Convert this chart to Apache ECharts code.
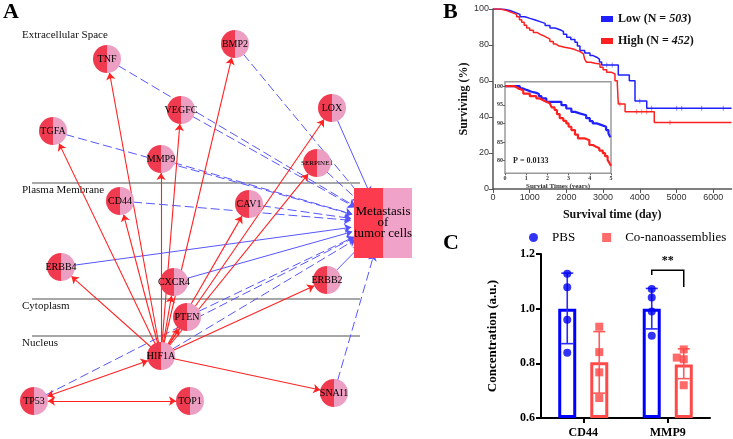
<!DOCTYPE html>
<html><head><meta charset="utf-8">
<script src="https://cdn.jsdelivr.net/npm/echarts@6/dist/echarts.min.js"></script>
<style>html,body{margin:0;padding:0;background:#fff}#c{width:733px;height:439px}</style>
</head><body><div id="c"></div>
<script>
// ---------- Panel A: network ----------
const nodeNames = ['TNF','BMP2','VEGFC','LOX','TGFA','MMP9','SERPINE1','CD44','CAV1','ERBB4','CXCR4','ERBB2','PTEN','HIF1A','TP53','TOP1','SNAI1'];
const nodeX =     [107,   235,   181,    332,  53,    161,   317,       120,   249,   61,     174,    327,    187,   161,    34,    190,   334];
const nodeY =     [59,    44,    110,    108,  131,   159,   163,       201,   204,   267,    282,    280,    317,   356,    401,   401,   393];
const outcomeName = 'Metastasis';
const outcomeLabel = 'Metastasis\nof\ntumor cells';
const outcomePos = [383, 223];
const redFrom = 'HIF1A';
const redTo = ['TNF','BMP2','VEGFC','LOX','TGFA','MMP9','SERPINE1','CD44','CAV1','ERBB4','CXCR4','ERBB2','PTEN','SNAI1'];
const bothWays = [['HIF1A','TP53'],['TP53','TOP1']];
const blueFrom = ['TNF','BMP2','VEGFC','LOX','TGFA','MMP9','SERPINE1','CD44','CAV1','ERBB4','CXCR4','ERBB2','PTEN','HIF1A','TP53','SNAI1'];
const blueSolid = ['LOX','ERBB4','CXCR4','ERBB2'];
const layers = ['Extracellular Space','Plasma Membrane','Cytoplasm','Nucleus'];

// ---------- Panel B: Kaplan-Meier ----------
const lowDays = [0,150,300,463,600,736,870,1008,1150,1281,1420,1553,1690,1826,1920,2008,2120,2234,2300,2370,2500,2643,2730,2825,2900,2961,3415,3715,3870,4190,6500];
const lowSurv = [100,99.8,99.2,98.1,97,95.7,94.8,93.9,93,92,90.8,89.4,88.5,87.6,86,84.3,83,81.5,79.5,76.9,75.5,74.1,73.2,72.2,70.5,68.9,63.3,60.2,48.9,44.8,44.8];
const highDays = [0,200,372,500,645,720,781,850,917,1000,1099,1190,1281,1370,1463,1550,1644,1710,1780,1950,2098,2190,2280,2370,2461,2500,2552,2660,2780,2916,3000,3098,3234,3324,3388,3415,3600,4395,6500];
const highSurv = [100,99.2,98.1,97,95.7,94,92.6,91,89.4,88.2,87,86,85.2,84.2,83.3,82,80.6,79.6,78.7,78.2,77.8,77,76.3,75.2,74.1,72,70.4,69.9,69.4,67.6,66.2,64.8,63.9,60.2,58.3,47.2,42.9,37,37];
const lowCensorDays = [3100,3250,4000,4324,5005,5142,5687,6276];
const lowCensorSurv = [68.9,68.9,48.9,44.8,44.8,44.8,44.8,44.8];
const highCensorDays = [3460,3915,4052,4188,4823];
const highCensorSurv = [47.2,42.9,42.9,42.9,37];
const kmTicksX = [0,1000,2000,3000,4000,5000,6000];
const kmTicksY = [0,20,40,60,80,100];
// inset (years)
const lowYears = [0,0.47,0.7,0.85,1.02,1.25,1.48,1.6,1.72,1.95,2.42,2.66,2.89,3.13,3.3,3.52,3.83,4.0,4.14,4.33,4.53,4.77,4.88,4.97,5];
const lowInset = [100,100,99.4,99,98.5,98.2,97.9,97.3,96.7,95.8,95.8,94.9,94.0,93.1,92.7,92.2,91.4,90.6,90.0,89.6,89.1,88.2,87.3,86.3,86.3];
const highYears = [0,0.39,0.5,0.62,0.86,1.17,1.48,1.65,1.8,1.95,2.11,2.2,2.34,2.45,2.58,2.75,2.89,3.0,3.13,3.3,3.44,3.75,3.98,4.15,4.3,4.45,4.61,4.72,4.84,4.93,5];
const highInset = [100,99.9,99.4,98.9,98,97.3,96.7,96.2,95.8,95.4,94.9,94.3,93.6,92.5,91.4,90.7,90,89.1,88.2,87,86,85.5,84.2,83.7,83.3,82.7,82,81.2,80.2,79.3,78.6];
const insetTicksY = [80,85,90,95,100];
const pValue = 'P = 0.0133';

// ---------- Panel C: bars ----------
const markers = ['CD44','MMP9'];
const pbsMean = [1.0, 1.0];
const pbsLow = [0.872, 0.926];
const pbsHigh = [1.13, 1.074];
const coMean = [0.804, 0.796];
const coLow = [0.691, 0.744];
const coHigh = [0.916, 0.853];
const pbsPoints = [[1.128,1.078,0.959,0.839],[1.072,1.041,0.99,0.901]];
const coPoints = [[0.934,0.841,0.767,0.673],[0.851,0.821,0.815,0.72]];
const sigLevels = [1.141, 1.123, 1.079];

const serif = "'Liberation Serif','Times New Roman',serif";
const sans = "'Liberation Sans',Arial,sans-serif";
const RED = '#f03a50', PINK = '#ec9fc2';
const half = (a, b) => ({type:'linear', x:0, y:0, x2:1, y2:0, colorStops:[
  {offset:0,color:a},{offset:0.5,color:a},{offset:0.5,color:b},{offset:1,color:b}]});

const chart = echarts.init(document.getElementById('c'), null, {renderer:'canvas'});

// network nodes/links
const gNodes = nodeNames.map((n,i)=>({
  name:n, value:[nodeX[i], nodeY[i]],
  label: n==='SERPINE1' ? {fontSize:7} : undefined
}));
gNodes.push({name:outcomeName, value:outcomePos, symbol:'rect', symbolSize:[58,70],
  itemStyle:{color:half('#fc3c4e','#f0a2c8')},
  label:{formatter:outcomeLabel, fontSize:13, lineHeight:11}});
const gLinks = [];
blueFrom.forEach(s=>gLinks.push({source:s, target:outcomeName,
  lineStyle:{color:'#5656ff', width:1, type: blueSolid.includes(s)?'solid':[9,4]}}));
redTo.forEach(t=>gLinks.push({source:redFrom, target:t, lineStyle:{color:'#ff2222', width:1.1, type:'solid'}}));
bothWays.forEach(p=>gLinks.push({source:p[0], target:p[1], symbol:['arrow','arrow'], lineStyle:{color:'#ff2222', width:1.1, type:'solid'}}));

const km = (d, s) => d.map((v,i)=>[v, s[i]]);
const BLUE = '#1f1fff', KRED = '#ff2020';

function errBar(color, off){
  return function(params, api){
    const lo = api.coord([api.value(0), api.value(2)]);
    const hi = api.coord([api.value(0), api.value(3)]);
    const x = lo[0] + off, w = 6;
    const st = {stroke:color, lineWidth:1.6};
    return {type:'group', children:[
      {type:'line', shape:{x1:x,y1:lo[1],x2:x,y2:hi[1]}, style:st},
      {type:'line', shape:{x1:x-w,y1:lo[1],x2:x+w,y2:lo[1]}, style:st},
      {type:'line', shape:{x1:x-w,y1:hi[1],x2:x+w,y2:hi[1]}, style:st}
    ]};
  };
}

const pbsScatter = [], coScatter = [];
pbsPoints.forEach((arr,c)=>arr.forEach(v=>pbsScatter.push([c,v])));
coPoints.forEach((arr,c)=>arr.forEach((v,k)=>coScatter.push(
  c===1 && k===1 ? {value:[c,v], symbolOffset:[9,0]} : [c,v])));

const option = {
  animation:false,
  textStyle:{fontFamily:serif},
  grid:[
    {left:0, top:0, width:370, height:439},
    {left:493, top:9, width:238.5, height:180},
    {left:505, top:81.7, width:106, height:91.6, show:true, borderColor:'#9a9a9a', borderWidth:1.5, backgroundColor:'#fff', z:3},
    {left:541, top:254, width:169, height:164}
  ],
  xAxis:[
    {gridIndex:0, type:'value', min:0, max:370, show:false},
    {gridIndex:1, type:'value', min:0, max:6500,
      axisLine:{show:true, lineStyle:{color:'#555', width:1.5}}, splitLine:{show:false},
      axisTick:{show:true, length:4, customValues:kmTicksX, lineStyle:{color:'#555'}},
      axisLabel:{customValues:kmTicksX, formatter:v=>String(v), fontFamily:sans, fontSize:9, color:'#333', margin:4},
      name:'Survival time (day)', nameLocation:'middle', nameGap:20,
      nameTextStyle:{fontFamily:serif, fontWeight:'bold', fontSize:12, color:'#111'}},
    {gridIndex:2, type:'value', min:0, max:5, interval:1, z:4,
      axisLine:{show:false}, splitLine:{show:false},
      axisTick:{show:true, length:2, lineStyle:{color:'#666'}},
      axisLabel:{fontFamily:serif, fontWeight:'bold', fontSize:6, color:'#333', margin:2},
      name:'Survial Times (years)', nameLocation:'middle', nameGap:9,
      nameTextStyle:{fontFamily:serif, fontWeight:'bold', fontSize:7, color:'#333'}},
    {gridIndex:3, type:'category', data:markers,
      axisLine:{show:true, lineStyle:{color:'#000', width:2}},
      axisTick:{show:true, alignWithLabel:true, length:5, lineStyle:{color:'#000', width:2}},
      axisLabel:{fontFamily:serif, fontWeight:'bold', fontSize:12, color:'#000', margin:9}}
  ],
  yAxis:[
    {gridIndex:0, type:'value', min:0, max:439, inverse:true, show:false},
    {gridIndex:1, type:'value', min:0, max:100,
      axisLine:{show:true, lineStyle:{color:'#555', width:1.5}}, splitLine:{show:false},
      axisTick:{show:true, length:4, customValues:kmTicksY, lineStyle:{color:'#555'}},
      axisLabel:{customValues:kmTicksY, fontFamily:sans, fontSize:9, color:'#333', margin:4},
      name:'Surviving (%)', nameLocation:'middle', nameGap:23,
      nameTextStyle:{fontFamily:serif, fontWeight:'bold', fontSize:12, color:'#111'}},
    {gridIndex:2, type:'value', min:76.6, max:101.2, z:4,
      axisLine:{show:false}, splitLine:{show:false},
      axisTick:{show:true, length:2, customValues:insetTicksY, lineStyle:{color:'#666'}},
      axisLabel:{customValues:insetTicksY, fontFamily:serif, fontWeight:'bold', fontSize:6, color:'#333', margin:2}},
    {gridIndex:3, type:'value', min:0.6, max:1.2, interval:0.2, startValue:0.6,
      axisLine:{show:true, lineStyle:{color:'#000', width:2}}, splitLine:{show:false},
      axisTick:{show:true, length:5, lineStyle:{color:'#000', width:2}},
      axisLabel:{formatter:v=>v.toFixed(1), fontFamily:serif, fontWeight:'bold', fontSize:12, color:'#000', margin:6},
      name:'Concentration (a.u.)', nameLocation:'middle', nameGap:42,
      nameTextStyle:{fontFamily:serif, fontWeight:'bold', fontSize:13, color:'#000'}}
  ],
  legend:[
    {data:['Low','High'], orient:'vertical', left:596, top:8, itemWidth:12, itemHeight:6, itemGap:10, icon:'rect',
      formatter:n=> n==='Low' ? '{b|Low (N = }{i|503}{b|)}' : '{b|High (N = }{i|452}{b|)}',
      textStyle:{rich:{b:{fontFamily:serif, fontWeight:'bold', fontSize:12, color:'#111'},
                       i:{fontFamily:serif, fontWeight:'bold', fontStyle:'italic', fontSize:12, color:'#111'}}}},
    {data:[{name:'PBS', icon:'circle'},{name:'Co-nanoassemblies', icon:'rect'}], orient:'horizontal',
      left:529, top:231, width:204, padding:0, itemWidth:9, itemHeight:9, itemGap:27,
      formatter:n=>'{a|'+n+'}',
      textStyle:{rich:{a:{fontFamily:serif, fontSize:13, color:'#000', padding:[0,0,0,9]}}}}
  ],
  graphic:[
    {type:'text', left:3, top:1, style:{text:'A', font:'bold 22px '+serif, fill:'#000'}},
    {type:'text', left:443, top:1, style:{text:'B', font:'bold 22px '+serif, fill:'#000'}},
    {type:'text', left:443, top:232, style:{text:'C', font:'bold 22px '+serif, fill:'#000'}},
    {type:'line', shape:{x1:32,y1:183,x2:360,y2:183}, style:{stroke:'#8a8a8a', lineWidth:1.3}},
    {type:'line', shape:{x1:32,y1:299,x2:360,y2:299}, style:{stroke:'#8a8a8a', lineWidth:1.3}},
    {type:'line', shape:{x1:32,y1:336,x2:360,y2:336}, style:{stroke:'#8a8a8a', lineWidth:1.3}},
    {type:'text', left:22, top:30, style:{text:layers[0], font:'11px '+serif, fill:'#111'}},
    {type:'text', left:22, top:185, style:{text:layers[1], font:'11px '+serif, fill:'#111'}},
    {type:'text', left:22, top:301, style:{text:layers[2], font:'11px '+serif, fill:'#111'}},
    {type:'text', left:22, top:338, style:{text:layers[3], font:'11px '+serif, fill:'#111'}},
    {type:'text', left:513, top:157, z:10, style:{text:pValue, font:'bold 8px '+serif, fill:'#222'}}
  ],
  series:[
    {type:'graph', coordinateSystem:'cartesian2d', xAxisIndex:0, yAxisIndex:0, silent:true,
      symbol:'circle', symbolSize:28, edgeSymbol:['none','arrow'], edgeSymbolSize:7,
      itemStyle:{color:half(RED, PINK)},
      label:{show:true, position:'inside', color:'#000', fontFamily:serif, fontSize:10},
      lineStyle:{opacity:1, curveness:0},
      emphasis:{disabled:true},
      data:gNodes, links:gLinks},
    {type:'line', name:'Low', xAxisIndex:1, yAxisIndex:1, step:'end', showSymbol:false, data:km(lowDays, lowSurv),
      lineStyle:{color:BLUE, width:1.5}, itemStyle:{color:BLUE}},
    {type:'line', name:'High', xAxisIndex:1, yAxisIndex:1, step:'end', showSymbol:false, data:km(highDays, highSurv),
      lineStyle:{color:KRED, width:1.5}, itemStyle:{color:KRED}},
    {type:'scatter', name:'Low censor', xAxisIndex:1, yAxisIndex:1, symbol:'rect', symbolSize:[1,5],
      data:km(lowCensorDays, lowCensorSurv), itemStyle:{color:'#6a6aff'}},
    {type:'scatter', name:'High censor', xAxisIndex:1, yAxisIndex:1, symbol:'rect', symbolSize:[1,5],
      data:km(highCensorDays, highCensorSurv), itemStyle:{color:'#ff6a6a'}},
    {type:'line', name:'Low inset', xAxisIndex:2, yAxisIndex:2, step:'end', showSymbol:false, z:5, data:km(lowYears, lowInset),
      lineStyle:{color:BLUE, width:2.2}},
    {type:'line', name:'High inset', xAxisIndex:2, yAxisIndex:2, step:'end', showSymbol:false, z:5, data:km(highYears, highInset),
      lineStyle:{color:KRED, width:2.2}},
    {type:'bar', name:'PBS bar', xAxisIndex:3, yAxisIndex:3, data:pbsMean, barWidth:18, barGap:'78%',
      itemStyle:{color:'rgba(0,0,0,0)', borderColor:'#0000ff', borderWidth:3}},
    {type:'bar', name:'Co bar', xAxisIndex:3, yAxisIndex:3, data:coMean, barWidth:18,
      itemStyle:{color:'rgba(0,0,0,0)', borderColor:'#ff4a4a', borderWidth:3}},
    {type:'custom', name:'PBS err', xAxisIndex:3, yAxisIndex:3, renderItem:errBar('#2a2aff', -16),
      encode:{x:0, y:1}, data:markers.map((m,i)=>[i, pbsMean[i], pbsLow[i], pbsHigh[i]]), z:4},
    {type:'custom', name:'Co err', xAxisIndex:3, yAxisIndex:3, renderItem:errBar('#ff5a5a', 16),
      encode:{x:0, y:1}, data:markers.map((m,i)=>[i, coMean[i], coLow[i], coHigh[i]]), z:4},
    {type:'scatter', name:'PBS', xAxisIndex:3, yAxisIndex:3, symbol:'circle', symbolSize:8, symbolOffset:[-16,0],
      data:pbsScatter, itemStyle:{color:'#0000f0'}, z:5},
    {type:'scatter', name:'Co-nanoassemblies', xAxisIndex:3, yAxisIndex:3, symbol:'rect', symbolSize:8, symbolOffset:[16,0],
      data:coScatter, itemStyle:{color:'#ff4545'}, z:5},
    {type:'custom', name:'sig', xAxisIndex:3, yAxisIndex:3, encode:{x:0, y:1}, z:6,
      data:[[1, sigLevels[0], sigLevels[1], sigLevels[2]]],
      renderItem:function(params, api){
        const top = api.coord([api.value(0), api.value(1)]);
        const yl = api.coord([api.value(0), api.value(2)])[1];
        const yr = api.coord([api.value(0), api.value(3)])[1];
        const l = top[0]-16, r = top[0]+16;
        return {type:'group', children:[
          {type:'polyline', shape:{points:[[l,yl],[l,top[1]],[r,top[1]],[r,yr]]}, style:{stroke:'#000', lineWidth:1.5, fill:null}},
          {type:'text', x:(l+r)/2, y:top[1]-3, style:{text:'**', font:'bold 12px '+serif, fill:'#000', align:'center', verticalAlign:'bottom'}}
        ]};
      }}
  ]
};
chart.setOption(option);
</script>
</body></html>
